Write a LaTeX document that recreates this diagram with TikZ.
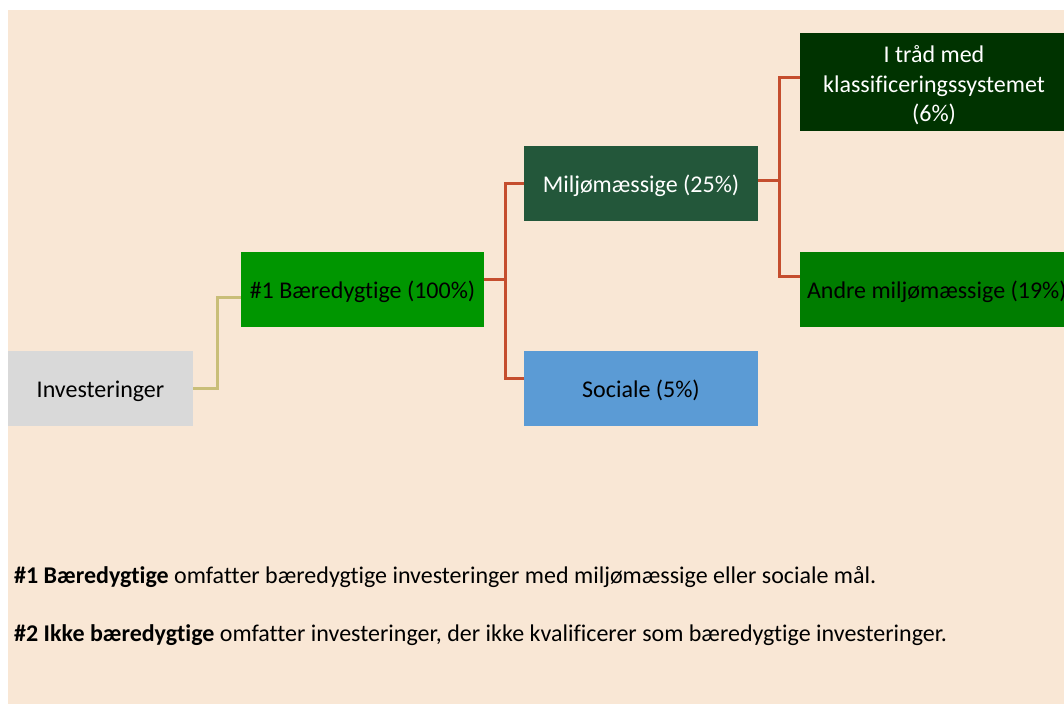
\documentclass[tikz,border=0pt]{standalone}
\usepackage{fontspec}
\setmainfont{Carlito}[RawFeature=-liga]
\definecolor{bg}{HTML}{F9E7D5}
\definecolor{cgray}{HTML}{D9D9D9}
\definecolor{cgreen}{HTML}{009600}
\definecolor{cmil}{HTML}{23573A}
\definecolor{csoc}{HTML}{5B9BD5}
\definecolor{ctrad}{HTML}{003300}
\definecolor{candre}{HTML}{007D00}
\definecolor{cyel}{HTML}{C9BE78}
\definecolor{cred}{HTML}{C54E2E}
\begin{document}
\begin{tikzpicture}[x=1pt,y=-1pt,
  box/.style={inner sep=0pt, outer sep=0pt, align=center, text height=17pt, text depth=0pt, font=\fontsize{24}{29.5}\selectfont},
  multi/.style={inner sep=0pt, outer sep=0pt, align=center, font=\fontsize{24}{29.5}\selectfont},
  yel/.style={draw=cyel, line width=3pt},
  red/.style={draw=cred, line width=3pt},
  note/.style={anchor=west, inner sep=0pt, font=\fontsize{24}{28}\selectfont}]
\useasboundingbox (0,0) rectangle (1064,704);
\clip (0,0) rectangle (1064,704);
\fill[bg] (8,10) rectangle (1064,704);
% boxes
\node[box, fill=cgray, minimum width=185pt, minimum height=75pt] (inv) at (100.5,388.5) {Investeringer};
\node[box, fill=cgreen, minimum width=243pt, minimum height=75pt] (b1) at (362.5,289.5) {\#1 Bæredygtige (100\%)};
\node[box, fill=cmil, text=white, minimum width=234pt, minimum height=75pt] (mil) at (641,183.5) {Miljømæssige (25\%)};
\node[box, fill=csoc, minimum width=234pt, minimum height=75pt] (soc) at (641,388.5) {Sociale (5\%)};
\node[box, fill=ctrad, minimum width=300pt, minimum height=98pt] (trad) at (950,82) {};
\node[multi, text=white] (tradtxt) at (934,85.5) {I tråd med\\klassificeringssystemet\\(6\%)};
\node[box, fill=candre, minimum width=300pt, minimum height=75pt] (andre) at (950,289.5) {};
\node[box, anchor=west] (andretxt) at (807,289.5) {Andre miljømæssige (19\%)};
% connectors
\draw[yel] (inv.east) -- ++(24,0) |- ([yshift=-8pt]b1.west);
\draw[red] ([yshift=10pt]b1.east) -- ++(21,0) coordinate (j1);
\draw[red] (mil.west) -| (j1) |- ([yshift=10pt]soc.west);
\draw[red] ([yshift=3pt]mil.east) -- ++(21,0) coordinate (j2);
\draw[red] ([yshift=5pt]trad.west) -| (j2) |- ([yshift=13pt]andre.west);
% notes
\node[note] (n1) at (14,577) {\textbf{\#1 Bæredygtige} omfatter bæredygtige investeringer med miljømæssige eller sociale mål.};
\node[note] (n2) at (14,635) {\textbf{\#2 Ikke bæredygtige} omfatter investeringer, der ikke kvalificerer som bæredygtige investeringer.};
\end{tikzpicture}
\end{document}
